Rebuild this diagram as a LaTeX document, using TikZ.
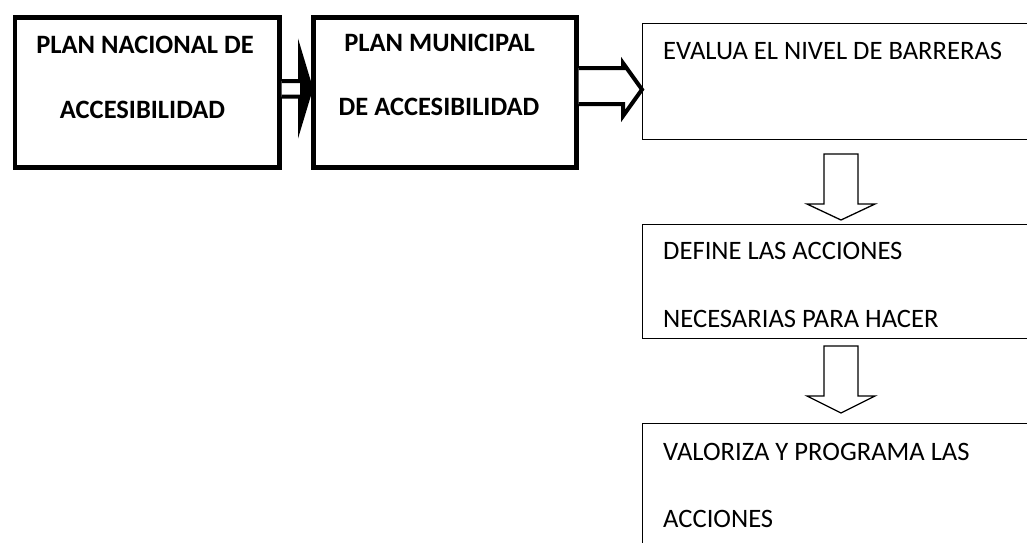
\documentclass[tikz,border=0pt]{standalone}
\usepackage{fontspec}
\setmainfont{Carlito}
\usetikzlibrary{calc}
\begin{document}
\begin{tikzpicture}[x=1pt,y=-1pt,
  thickbox/.style={draw, line width=4.5pt, inner sep=0pt, anchor=north west},
  thinbox/.style={draw, line width=1.3pt, inner sep=0pt, anchor=north west},
  txt/.style={inner sep=0pt, font=\fontsize{26.6}{30}\selectfont},
  btxt/.style={inner sep=0pt, font=\fontsize{26.5}{30}\selectfont\bfseries},
  blk/.style={draw, line width=4pt, fill=white, line join=miter},
  thinarrow/.style={draw, line width=1.3pt, fill=white, line join=miter}]
\useasboundingbox (0,0) rectangle (1027,542);
\clip (0,0) rectangle (1027,542);
% boxes
\node[thickbox, minimum width=264.5pt, minimum height=150pt] (n1) at (12.5,15) {};
\node[thickbox, minimum width=263pt, minimum height=150pt] (n2) at (311,15) {};
\node[thinbox, minimum width=450pt, minimum height=116pt] (n3) at (642,23) {};
\node[thinbox, minimum width=450pt, minimum height=114pt] (n4) at (642,224) {};
\node[thinbox, minimum width=450pt, minimum height=150pt] (n5) at (642,423) {};
% texts
\node[btxt, anchor=base] (t1a) at (145,53) {PLAN NACIONAL DE};
\node[btxt, anchor=base] (t1b) at (142.5,118) {ACCESIBILIDAD};
\node[btxt, anchor=base] (t2a) at (439.5,51) {PLAN MUNICIPAL};
\node[btxt, anchor=base] (t2b) at (439,115) {DE ACCESIBILIDAD};
\node[txt, anchor=base west] (t3) at (663,59) {EVALUA EL NIVEL DE BARRERAS};
\node[txt, anchor=base west] (t4a) at (663,259) {DEFINE LAS ACCIONES};
\node[txt, anchor=base west] (t4b) at (663,327) {NECESARIAS PARA HACER};
\node[txt, anchor=base west] (t5a) at (663,460) {VALORIZA Y PROGRAMA LAS};
\node[txt, anchor=base west] (t5b) at (663,527) {ACCIONES};
% block arrow n1 -> n2
\draw[blk] (n1.east |- 0,81) -- (300,81) -- (300,52) -- (n2.west |- 0,88.5) -- (300,125) -- (300,96.5) -- (n1.east |- 0,96.5);
\fill (300,52) -- (n2.west |- 0,88.5) -- (300,125) -- cycle;
% block arrow n2 -> n3
\draw[blk] (n2.east |- 0,68) -- (623,68) -- (623,63) -- (n3.west |- 0,89.5) -- (623,116) -- (623,104) -- (n2.east |- 0,104);
% down arrows
\coordinate (d1) at (841,154);
\coordinate (d2) at (841,346);
\draw[thinarrow] (d1) ++(-17,0) -- ++(0,50) -- ++(-17,0) -- ++(34,16) -- ++(34,-16) -- ++(-17,0) -- ++(0,-50) -- cycle;
\draw[thinarrow] (d2) ++(-17,0) -- ++(0,50) -- ++(-17,0) -- ++(34,17) -- ++(34,-17) -- ++(-17,0) -- ++(0,-50) -- cycle;
\end{tikzpicture}
\end{document}
